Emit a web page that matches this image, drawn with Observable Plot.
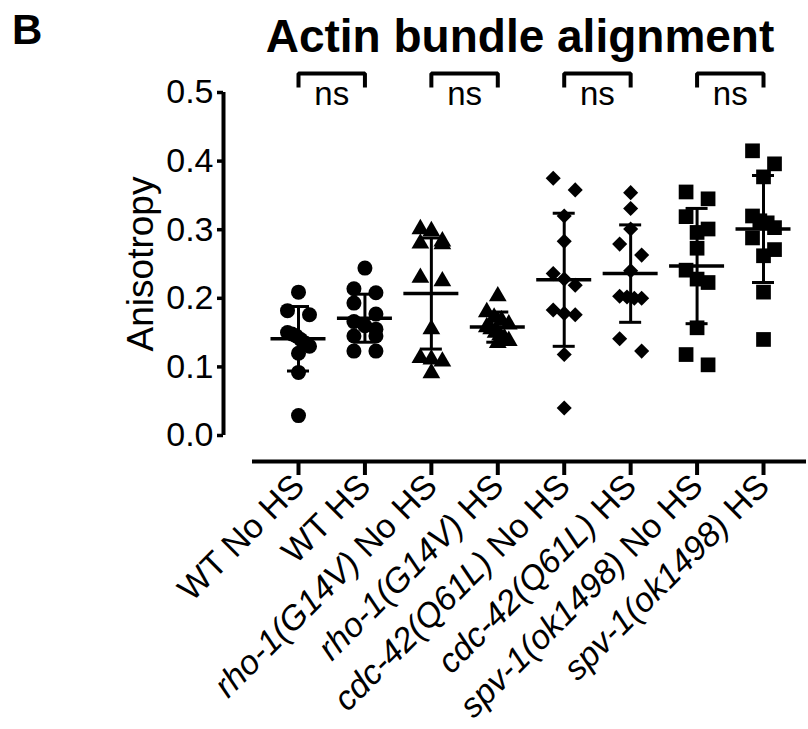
<!DOCTYPE html>
<html>
<head>
<meta charset="utf-8">
<script src="https://cdn.jsdelivr.net/npm/d3@7"></script>
<script src="https://cdn.jsdelivr.net/npm/@observablehq/plot@0.6"></script>
<style>
  body { margin: 0; background: #fff; }
  #wrap { position: relative; width: 808px; height: 729px; font-family: "Liberation Sans", Arial, sans-serif; color: #000; }
  #panel { position: absolute; left: 12px; top: 9px; font-size: 42px; line-height: 42px; font-weight: bold; }
  #title { position: absolute; left: 232px; width: 576px; top: 13px; font-size: 46px; line-height: 46px; font-weight: bold; text-align: center; }
  #chart { position: absolute; left: 0; top: 0; }
</style>
</head>
<body>
<div id="wrap">
  <div id="chart"></div>
  <div id="panel">B</div>
  <div id="title">Actin bundle alignment</div>
</div>
<script>
// ---------------- data ----------------
const genotypes  = ["WT", "WT", "rho-1(G14V)", "rho-1(G14V)", "cdc-42(Q61L)", "cdc-42(Q61L)", "spv-1(ok1498)", "spv-1(ok1498)"];
const conditions = ["No HS", "HS", "No HS", "HS", "No HS", "HS", "No HS", "HS"];
const italicGenotype = [false, false, true, true, true, true, true, true];

const wtNoHS    = [0.209, 0.182, 0.176, 0.150, 0.148, 0.145, 0.140, 0.135, 0.130, 0.120, 0.092, 0.029];
const wtHS      = [0.244, 0.214, 0.208, 0.193, 0.177, 0.166, 0.160, 0.155, 0.145, 0.145, 0.123, 0.123];
const rhoNoHS   = [0.298, 0.301, 0.280, 0.279, 0.283, 0.225, 0.230, 0.155, 0.108, 0.111, 0.113, 0.091];
const rhoHS     = [0.203, 0.180, 0.172, 0.168, 0.162, 0.158, 0.155, 0.150, 0.146, 0.142, 0.138, 0.135];
const cdcNoHS   = [0.358, 0.375, 0.320, 0.283, 0.228, 0.236, 0.219, 0.183, 0.178, 0.176, 0.118, 0.040];
const cdcHS     = [0.354, 0.331, 0.301, 0.279, 0.263, 0.240, 0.203, 0.200, 0.200, 0.202, 0.141, 0.123];
const spvNoHS   = [0.355, 0.345, 0.319, 0.296, 0.301, 0.273, 0.241, 0.223, 0.228, 0.157, 0.118, 0.103];
const spvHS     = [0.415, 0.396, 0.377, 0.320, 0.313, 0.310, 0.303, 0.288, 0.271, 0.262, 0.209, 0.140];

const means = [0.141, 0.171, 0.207, 0.158, 0.227, 0.236, 0.247, 0.301];
const sds   = [0.047, 0.035, 0.081, 0.022, 0.097, 0.071, 0.084, 0.078];

const comparisons = [[0, 1, "ns"], [2, 3, "ns"], [4, 5, "ns"], [6, 7, "ns"]];
const yTicks = [0, 0.1, 0.2, 0.3, 0.4, 0.5];

// ---------------- layout / style ----------------
const seriesValues = [wtNoHS, wtHS, rhoNoHS, rhoHS, cdcNoHS, cdcHS, spvNoHS, spvHS];
const shapes = ["circle", "circle", "triangle", "triangle", "diamond2", "diamond2", "square", "square"];
const shapeR = {circle: 7.5, triangle: 6.6, diamond2: 6.8, square: 8.3};
const W = 808, H = 729;
const mL = 223, mR = 2, mT = 92, mB = 268;
const firstPx = 298, stepPx = 66.43;          // group centre spacing in pixels
const y0Px = 435, y5Px = 92;                    // y=0 and y=0.5 pixel positions
const pxPerY = (y0Px - y5Px) / 0.5;
const xLo = (mL - firstPx) / stepPx;
const xHi = (W - mR - firstPx) / stepPx;
const xAxisStart = (252 - firstPx) / stepPx;
const xAxisY = -(461 - y0Px) / pxPerY;

// simple scatter-dot spreading (GraphPad-like): points close in y share a row
function spread(vals) {
  const order = vals.map((v, i) => i).sort((a, b) => vals[b] - vals[a]);
  const off = new Array(vals.length).fill(0);
  let cl = [];
  const flush = () => {
    const n = cl.length;
    cl.forEach((j, k) => { off[j] = n === 1 ? 0 : -11 + 22 * k / (n - 1); });
    cl = [];
  };
  for (const j of order) {
    if (cl.length && (vals[cl[0]] - vals[j]) * pxPerY > 14) flush();
    cl.push(j);
  }
  flush();
  return off;
}

const points = [];
seriesValues.forEach((vals, g) => {
  const off = spread(vals);
  vals.forEach((v, i) => points.push({g, value: v, x: g + off[i] / stepPx, shape: shapes[g]}));
});
const stats = means.map((m, g) => ({g, mean: m, lo: m - sds[g], hi: m + sds[g]}));

const capHalf = 11 / stepPx, meanHalf = 27.5 / stepPx;
const brTop = (y0Px - 73) / pxPerY, brLow = (y0Px - 87) / pxPerY, nsY = (y0Px - 93.5) / pxPerY;
const bracketPts = [];
comparisons.forEach(([a, b], k) => {
  bracketPts.push({k, x: a, y: brLow}, {k, x: a, y: brTop}, {k, x: b, y: brTop}, {k, x: b, y: brLow});
});

const dotMarks = Object.keys(shapeR).map(s =>
  Plot.dot(points.filter(d => d.shape === s), {x: "x", y: "value", symbol: s, r: shapeR[s], fill: "black", stroke: "none"})
);

const chart = Plot.plot({
  width: W, height: H,
  marginLeft: mL, marginRight: mR, marginTop: mT, marginBottom: mB,
  style: {fontFamily: "'Liberation Sans', Arial, sans-serif", color: "black", background: "white", overflow: "visible"},
  x: {domain: [xLo, xHi]},
  y: {domain: [0, 0.5], range: [y0Px, y5Px]},
  marks: [
    // axes
    Plot.ruleX([xLo], {y1: 0, y2: 0.5, strokeWidth: 4}),
    Plot.axisY(yTicks, {tickSize: 6, tickPadding: 4, strokeWidth: 3.5, fontSize: 34, tickFormat: d3.format(".1f"), label: null}),
    Plot.ruleY([xAxisY], {x1: xAxisStart, x2: xHi, strokeWidth: 4}),
    Plot.axisX(d3.range(8), {anchor: "bottom", tickSize: 14, strokeWidth: 4, tickPadding: 5, fontSize: 34,
      tickRotate: -45, tickFormat: i => genotypes[i] + " " + conditions[i], label: null}),
    Plot.text(["Anisotropy"], {frameAnchor: "left", textAnchor: "middle", rotate: -90, dx: -82, dy: -13, fontSize: 37}),
    // data
    ...dotMarks,
    Plot.ruleX(stats, {x: "g", y1: "lo", y2: "hi", strokeWidth: 3}),
    Plot.ruleY(stats, {y: "lo", x1: d => d.g - capHalf, x2: d => d.g + capHalf, strokeWidth: 3}),
    Plot.ruleY(stats, {y: "hi", x1: d => d.g - capHalf, x2: d => d.g + capHalf, strokeWidth: 3}),
    Plot.ruleY(stats, {y: "mean", x1: d => d.g - meanHalf, x2: d => d.g + meanHalf, strokeWidth: 3.5}),
    // significance brackets
    Plot.line(bracketPts, {x: "x", y: "y", z: "k", strokeWidth: 4, strokeLinejoin: "miter", strokeLinecap: "butt"}),
    Plot.text(comparisons, {x: d => (d[0] + d[1]) / 2, y: () => nsY, text: d => d[2], fontSize: 33})
  ]
});
document.getElementById("chart").appendChild(chart);

// italic genotype names in x tick labels
const svgNS = "http://www.w3.org/2000/svg";
chart.querySelectorAll('g[aria-label="x-axis tick label"] text').forEach((t, i) => {
  t.textContent = "";
  const a = document.createElementNS(svgNS, "tspan");
  a.textContent = genotypes[i];
  if (italicGenotype[i]) a.setAttribute("font-style", "italic");
  const b = document.createElementNS(svgNS, "tspan");
  b.textContent = " " + conditions[i];
  t.appendChild(a); t.appendChild(b);
});
</script>
</body>
</html>
